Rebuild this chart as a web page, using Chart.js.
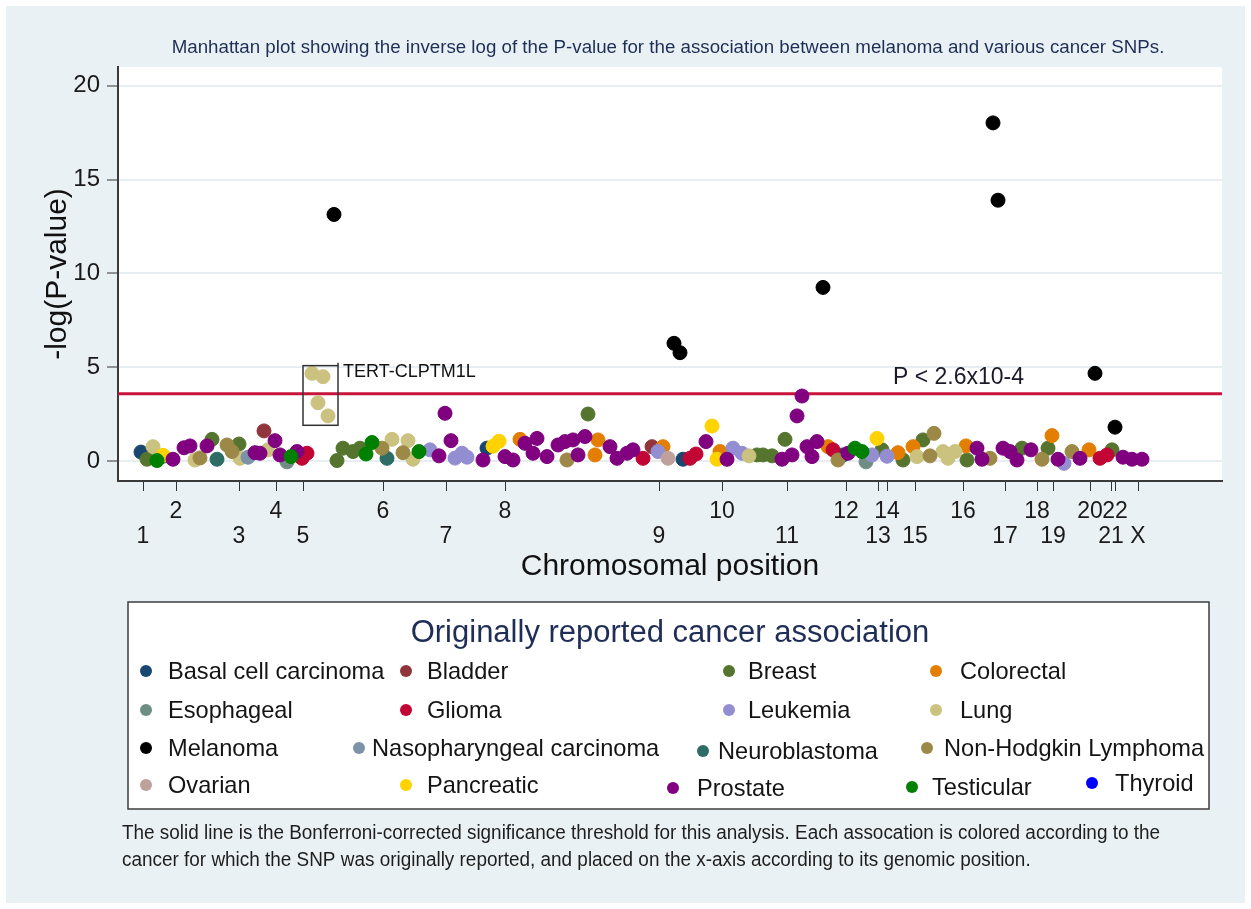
<!DOCTYPE html>
<html>
<head>
<meta charset="utf-8">
<script src="https://cdn.jsdelivr.net/npm/chart.js@4.4.1/dist/chart.umd.min.js"></script>
<style>
html,body{margin:0;padding:0;background:#ffffff;}
#wrap{width:1251px;height:909px;}
</style>
</head>
<body>
<div id="wrap"><canvas id="c" width="1251" height="909"></canvas></div>
<script>
const FONT = "'Liberation Sans', Arial, Helvetica, sans-serif";

// ---------- texts ----------
const chartTitle = 'Manhattan plot showing the inverse log of the P-value for the association between melanoma and various cancer SNPs.';
const yAxisTitle = '-log(P-value)';
const xAxisTitle = 'Chromosomal position';
const legendTitle = 'Originally reported cancer association';
const footnoteLines = [
  'The solid line is the Bonferroni-corrected significance threshold for this analysis. Each assocation is colored according to the',
  'cancer for which the SNP was originally reported, and placed on the x-axis according to its genomic position.'
];
const thresholdLabel = 'P < 2.6x10-4';
const locusLabel = 'TERT-CLPTM1L';

// ---------- axes ----------
const thresholdP = 2.6e-4;
const threshold = -Math.log10(thresholdP);
const xRange = [0, 1104];          // cumulative genomic position (scaled units)
const yRange = [-1.07, 21.0];
const yTicks = [0, 5, 10, 15, 20];
const chromosomes = ['1','2','3','4','5','6','7','8','9','10','11','12','13','14','15','16','17','18','19','20','21','22','X'];
const chromTicks  = [25, 58, 121, 158, 185, 265, 328, 387, 541, 604, 669, 728, 760, 769, 797, 845, 887, 919, 935, 972, 993, 997, 1020];

// ---------- categories ----------
const cancerTypes = ['Basal cell carcinoma','Bladder','Breast','Colorectal','Esophageal','Glioma','Leukemia','Lung',
  'Melanoma','Nasopharyngeal carcinoma','Neuroblastoma','Non-Hodgkin Lymphoma','Ovarian','Pancreatic','Prostate','Testicular','Thyroid'];
const cancerColors = ['#1a476f','#90353b','#55752f','#e37e00','#6e8e84','#c10534','#938dd2','#cac27e',
  '#000000','#7b92a8','#2d6d66','#9c8847','#bfa19c','#ffd200','#800080','#008000','#0000ff'];

// ---------- series (x = position, y = -log P) ----------
const basalX = [23, 45, 369, 565, 725];
const basalY = [0.47, 0.25, 0.68, 0.09, 0.32];
const bladderX = [146, 534];
const bladderY = [1.6, 0.76];
const breastX = [29, 94, 121, 219, 225, 235, 242, 470, 639, 645, 654, 667, 764, 785, 805, 849, 904, 930, 994];
const breastY = [0.09, 1.15, 0.9, 0.02, 0.68, 0.5, 0.68, 2.5, 0.32, 0.32, 0.27, 1.15, 0.59, 0.05, 1.12, 0.05, 0.68, 0.68, 0.59];
const colorectalX = [402, 477, 480, 545, 602, 710, 780, 795, 848, 934, 971];
const colorectalY = [1.15, 0.32, 1.12, 0.76, 0.5, 0.76, 0.44, 0.76, 0.8, 1.35, 0.59];
const esophagealX = [169, 748];
const esophagealY = [-0.05, -0.05];
const gliomaX = [184, 189, 525, 572, 578, 715, 982, 989];
const gliomaY = [0.14, 0.41, 0.14, 0.14, 0.37, 0.59, 0.14, 0.32];
const leukemiaX = [312, 337, 344, 349, 540, 615, 624, 754, 769, 946];
const leukemiaY = [0.59, 0.15, 0.41, 0.2, 0.5, 0.68, 0.41, 0.32, 0.25, -0.13];
const lungX = [35, 77, 122, 150, 194, 200, 205, 210, 274, 290, 295, 631, 799, 825, 830, 837];
const lungY = [0.76, 0.05, 0.14, 0.59, 4.67, 3.1, 4.49, 2.4, 1.15, 1.08, 0.09, 0.27, 0.23, 0.5, 0.14, 0.5];
const melanomaX = [216, 556, 562, 705, 875, 880, 977, 997];
const melanomaY = [13.14, 6.27, 5.77, 9.25, 18.02, 13.9, 4.67, 1.8];
const nasoX = [130];
const nasoY = [0.2];
const neuroX = [99, 269];
const neuroY = [0.09, 0.14];
const nhlX = [82, 109, 114, 264, 285, 449, 720, 812, 816, 872, 924, 954];
const nhlY = [0.16, 0.85, 0.5, 0.68, 0.44, 0.05, 0.05, 0.27, 1.47, 0.14, 0.09, 0.5];
const ovarianX = [550];
const ovarianY = [0.14];
const pancreaticX = [45, 375, 381, 594, 599, 759];
const pancreaticY = [0.3, 0.78, 1.05, 1.86, 0.09, 1.2];
const prostateX = [55, 66, 72, 89, 137, 142, 157, 162, 179, 321, 327, 333, 365, 387, 395, 407, 415, 419, 429, 440, 447, 455, 460, 467,
  492, 499, 509, 515, 588, 609, 664, 674, 679, 684, 689, 694, 699, 730, 859, 864, 885, 892, 899, 913, 940, 962, 1005, 1014, 1024];
const prostateY = [0.09, 0.7, 0.8, 0.8, 0.44, 0.41, 1.08, 0.32, 0.5, 0.27, 2.54, 1.08, 0.05, 0.23, 0.05, 0.94, 0.41, 1.2, 0.23, 0.85, 1.03, 1.12, 0.32, 1.3,
  0.76, 0.14, 0.41, 0.59, 1.03, 0.09, 0.09, 0.32, 2.4, 3.46, 0.76, 0.23, 1.03, 0.41, 0.68, 0.09, 0.68, 0.5, 0.05, 0.59, 0.09, 0.14, 0.2, 0.09, 0.09];
const testicularX = [39, 173, 248, 254, 301, 737, 744];
const testicularY = [0.02, 0.23, 0.37, 0.98, 0.5, 0.68, 0.5];
const thyroidX = [];
const thyroidY = [];

const seriesX = [basalX, bladderX, breastX, colorectalX, esophagealX, gliomaX, leukemiaX, lungX, melanomaX, nasoX, neuroX, nhlX, ovarianX, pancreaticX, prostateX, testicularX, thyroidX];
const seriesY = [basalY, bladderY, breastY, colorectalY, esophagealY, gliomaY, leukemiaY, lungY, melanomaY, nasoY, neuroY, nhlY, ovarianY, pancreaticY, prostateY, testicularY, thyroidY];

// annotation box around the TERT-CLPTM1L locus (data coordinates)
const tertBox = {xMin: 185, xMax: 220, yMin: 1.9, yMax: 5.08};
const thresholdLabelX = 775;

// ---------- layout constants (not data) ----------
const legendSlots = [
  [146,168,671],[406,427,671],[729,748,671],[936,960,671],
  [146,168,710],[406,427,710],[729,748,710],[936,960,710],
  [146,168,748],[359,372,748],[703,718,751],[927,944,748],
  [146,168,785],[406,427,785],[673,697,788],[912,932,787],[1092,1115,783]
];
const legendBox = {x:128, y:602, w:1081, h:207};

function chromLabel(i){
  const name = chromosomes[i];
  const n = parseInt(name, 10);
  if (!isNaN(n) && n % 2 === 0) return [name];
  return ['', name];
}

const datasets = cancerTypes.map((name, i) => ({
  type: 'scatter',
  label: name,
  data: seriesX[i].map((x, j) => ({x: x, y: seriesY[i][j]})),
  backgroundColor: cancerColors[i],
  borderColor: cancerColors[i],
  borderWidth: 1,
  pointRadius: 7,
  pointHoverRadius: 7,
  order: 40 - i
}));
datasets.push({
  type: 'line',
  label: 'threshold',
  data: [{x: xRange[0], y: threshold}, {x: xRange[1], y: threshold}],
  borderColor: '#c8143c',
  borderWidth: 3,
  pointRadius: 0,
  fill: false,
  order: 100
});

const decor = {
  id: 'decor',
  beforeDraw(chart){
    const ctx = chart.ctx, a = chart.chartArea;
    ctx.save();
    ctx.fillStyle = '#ffffff';
    ctx.fillRect(0, 0, chart.width, chart.height);
    ctx.fillStyle = '#eaf1f4';
    ctx.fillRect(6, 6, chart.width - 12, chart.height - 12);
    ctx.fillStyle = '#ffffff';
    ctx.fillRect(a.left, a.top, a.right - a.left, a.bottom - a.top);
    ctx.restore();
  },
  afterDatasetsDraw(chart){
    const ctx = chart.ctx, xs = chart.scales.x, ys = chart.scales.y;
    ctx.save();
    // TERT box
    const bx0 = xs.getPixelForValue(tertBox.xMin), bx1 = xs.getPixelForValue(tertBox.xMax);
    const by0 = ys.getPixelForValue(tertBox.yMax), by1 = ys.getPixelForValue(tertBox.yMin);
    ctx.strokeStyle = '#333333';
    ctx.lineWidth = 1.5;
    ctx.strokeRect(bx0, by0, bx1 - bx0, by1 - by0);
    ctx.beginPath(); ctx.moveTo(bx1, by0); ctx.lineTo(bx1, by0 - 3); ctx.stroke();
    ctx.fillStyle = '#111111';
    ctx.font = '18px ' + FONT;
    ctx.textAlign = 'left';
    ctx.textBaseline = 'middle';
    ctx.fillText(locusLabel, bx1 + 5, by0 + 6);
    // threshold label
    ctx.font = '23px ' + FONT;
    ctx.fillStyle = '#1a1a2a';
    ctx.fillText(thresholdLabel, xs.getPixelForValue(thresholdLabelX), ys.getPixelForValue(threshold) - 16);
    ctx.restore();
  },
  afterDraw(chart){
    const ctx = chart.ctx;
    ctx.save();
    // chart title
    ctx.fillStyle = '#1f2e57';
    ctx.textAlign = 'center';
    ctx.textBaseline = 'middle';
    ctx.font = '17px ' + FONT;
    const tw = ctx.measureText(chartTitle).width;
    const ts = 17 * 993 / tw;
    ctx.font = ts.toFixed(2) + 'px ' + FONT;
    ctx.fillText(chartTitle, 668, 48);

    // legend box
    ctx.fillStyle = '#ffffff';
    ctx.fillRect(legendBox.x, legendBox.y, legendBox.w, legendBox.h);
    ctx.strokeStyle = '#3c3c3c';
    ctx.lineWidth = 1.5;
    ctx.strokeRect(legendBox.x, legendBox.y, legendBox.w, legendBox.h);
    ctx.fillStyle = '#1f2e57';
    ctx.font = '31px ' + FONT;
    ctx.textAlign = 'center';
    ctx.fillText(legendTitle, 670, 633);
    ctx.font = '23.6px ' + FONT;
    ctx.textAlign = 'left';
    chart.data.datasets.forEach((ds, i) => {
      if (ds.type !== 'scatter') return;
      const s = legendSlots[i];
      ctx.fillStyle = ds.backgroundColor;
      ctx.beginPath();
      ctx.arc(s[0], s[2], 6, 0, Math.PI * 2);
      ctx.fill();
      ctx.fillStyle = '#141414';
      ctx.fillText(ds.label, s[1], s[2] + 1);
    });

    // footnote (condensed face)
    ctx.fillStyle = '#1e1e1e';
    ctx.font = '19.5px ' + FONT;
    const fw = ctx.measureText(footnoteLines[0]).width;
    const k = 1038 / fw;
    [834, 861].forEach((y, i) => {
      ctx.save();
      ctx.translate(122, y);
      ctx.scale(k, 1);
      ctx.fillText(footnoteLines[i], 0, 0);
      ctx.restore();
    });
    ctx.restore();
  }
};

new Chart(document.getElementById('c'), {
  type: 'scatter',
  data: {datasets: datasets},
  plugins: [decor],
  options: {
    responsive: false,
    animation: false,
    devicePixelRatio: 1,
    events: [],
    layout: {padding: {top: 67, left: 0, right: 29, bottom: 324}},
    plugins: {legend: {display: false}, tooltip: {enabled: false}, title: {display: false}},
    scales: {
      x: {
        type: 'linear',
        min: xRange[0], max: xRange[1],
        afterBuildTicks: s => { s.ticks = chromTicks.map(v => ({value: v})); },
        afterFit: s => { s.height = 104; },
        grid: {drawOnChartArea: false, drawTicks: true, tickLength: 10, tickColor: '#333333', tickWidth: 1},
        border: {display: true, color: '#3a3a3a', width: 2},
        ticks: {autoSkip: false, maxRotation: 0, minRotation: 0, padding: 8, color: '#1a1a1a',
          font: {family: FONT, size: 23, lineHeight: 1.087},
          callback: (v, i) => chromLabel(i)},
        title: {display: true, text: xAxisTitle, color: '#111111',
          font: {family: FONT, size: 30, lineHeight: 1.2}, padding: {top: 0, bottom: 0}}
      },
      y: {
        type: 'linear',
        min: yRange[0], max: yRange[1],
        afterBuildTicks: s => { s.ticks = yTicks.map(v => ({value: v})); },
        afterFit: s => { s.width = 118; },
        grid: {color: '#e6eef2', lineWidth: 2, drawTicks: true, tickLength: 11, tickColor: '#333333', tickWidth: 1},
        border: {display: true, color: '#3a3a3a', width: 2},
        ticks: {padding: 7, color: '#1a1a1a', font: {family: FONT, size: 24}},
        title: {display: true, text: yAxisTitle, color: '#111111',
          font: {family: FONT, size: 30, lineHeight: 1.2}, padding: {top: 40, bottom: 0}}
      }
    }
  }
});
</script>
</body>
</html>
